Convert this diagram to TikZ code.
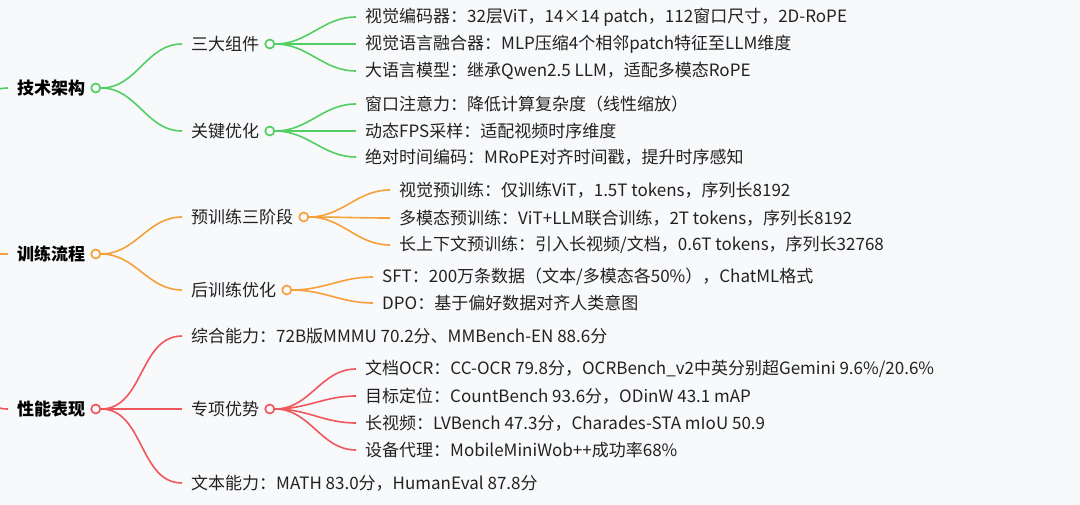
\documentclass[tikz,border=0pt]{standalone}
\usepackage{fontspec}
\setmainfont{Noto Sans CJK SC}
\usepackage{xcolor}
\usepackage{tikz}
\usetikzlibrary{positioning}
\definecolor{bgpage}{HTML}{F8F9FB}
\definecolor{archgreen}{HTML}{52CF63}
\definecolor{trainorange}{HTML}{F5A03A}
\definecolor{perfred}{HTML}{F0575C}
\definecolor{inktext}{HTML}{222222}

\begin{document}
\begin{tikzpicture}[
    x=1pt, y=-1pt,
    every node/.style={font=\fontsize{17}{20}\selectfont, text=inktext},
    topic/.style={anchor=west, inner xsep=9pt, inner ysep=2pt},
    roottopic/.style={topic, font=\fontsize{17}{20}\selectfont\bfseries, text=black},
    knob/.style={circle, draw=#1, fill=bgpage, line width=1.7pt,
                 minimum size=9pt, inner sep=0pt},
    linkline/.style={draw=#1, line width=1.6pt},
]
    \fill[bgpage] (0,0) rectangle (1080,505);
    \useasboundingbox (0,0) rectangle (1080,505);
    \clip (0,0) rectangle (1080,505);
    \coordinate (hub) at (-70,254);

    % Tech architecture
    \node[roottopic] (tech) at (8,88) {技术架构};
    \node[knob=archgreen, right=-4pt of tech] (techk) {};
    \node[topic] (parts) at (182,44) {三大组件};
    \node[knob=archgreen, right=-4pt of parts] (partsk) {};
    \node[topic] (vis) at (356,17) {视觉编码器：32层ViT，14×14 patch，112窗口尺寸，2D-RoPE};
    \node[topic] (fuse) at (356,44) {视觉语言融合器：MLP压缩4个相邻patch特征至LLM维度};
    \node[topic] (llm) at (356,71) {大语言模型：继承Qwen2.5 LLM，适配多模态RoPE};
    \node[topic] (keyopt) at (182,131) {关键优化};
    \node[knob=archgreen, right=-4pt of keyopt] (keyoptk) {};
    \node[topic] (winatt) at (356,104) {窗口注意力：降低计算复杂度（线性缩放）};
    \node[topic] (dynfps) at (356,131) {动态FPS采样：适配视频时序维度};
    \node[topic] (abstime) at (356,157) {绝对时间编码：MRoPE对齐时间戳，提升时序感知};

    % Training pipeline
    \node[roottopic] (train) at (8,254) {训练流程};
    \node[knob=trainorange, right=-4pt of train] (traink) {};
    \node[topic] (pretrain) at (182,217) {预训练三阶段};
    \node[knob=trainorange, right=-4pt of pretrain] (pretraink) {};
    \node[topic] (vispre) at (390,190) {视觉预训练：仅训练ViT，1.5T tokens，序列长8192};
    \node[topic] (mmpre) at (390,218) {多模态预训练：ViT+LLM联合训练，2T tokens，序列长8192};
    \node[topic] (longpre) at (390,245) {长上下文预训练：引入长视频/文档，0.6T tokens，序列长32768};
    \node[topic] (post) at (182,290) {后训练优化};
    \node[knob=trainorange, right=-4pt of post] (postk) {};
    \node[topic] (sft) at (373,277) {SFT：200万条数据（文本/多模态各50\%），ChatML格式};
    \node[topic] (dpo) at (373,303) {DPO：基于偏好数据对齐人类意图};

    % Performance
    \node[roottopic] (perf) at (8,409) {性能表现};
    \node[knob=perfred, right=-4pt of perf] (perfk) {};
    \node[topic] (overall) at (182,336) {综合能力：72B版MMMU 70.2分、MMBench-EN 88.6分};
    \node[topic] (special) at (182,409) {专项优势};
    \node[knob=perfred, right=-4pt of special] (specialk) {};
    \node[topic] (dococr) at (356,369) {文档OCR：CC-OCR 79.8分，OCRBench\_v2中英分别超Gemini 9.6\%/20.6\%};
    \node[topic] (ground) at (356,396) {目标定位：CountBench 93.6分，ODinW 43.1 mAP};
    \node[topic] (longvid) at (356,423) {长视频：LVBench 47.3分，Charades-STA mIoU 50.9};
    \node[topic] (agent) at (356,450) {设备代理：MobileMiniWob++成功率68\%};
    \node[topic] (textcap) at (182,483) {文本能力：MATH 83.0分，HumanEval 87.8分};

    % Links
    \draw[linkline=archgreen] (hub) to[out=0, in=180] (tech.west);
    \draw[linkline=archgreen] (techk.east) to[out=0, in=180] (parts.west);
    \draw[linkline=archgreen] (techk.east) to[out=0, in=180] (keyopt.west);
    \foreach \leaf in {vis, fuse, llm}
        \draw[linkline=archgreen] (partsk.east) to[out=0, in=180] (\leaf.west);
    \foreach \leaf in {winatt, dynfps, abstime}
        \draw[linkline=archgreen] (keyoptk.east) to[out=0, in=180] (\leaf.west);

    \draw[linkline=trainorange] (hub) to[out=0, in=180] (train.west);
    \draw[linkline=trainorange] (traink.east) to[out=0, in=180] (pretrain.west);
    \draw[linkline=trainorange] (traink.east) to[out=0, in=180] (post.west);
    \foreach \leaf in {vispre, mmpre, longpre}
        \draw[linkline=trainorange] (pretraink.east) to[out=0, in=180] (\leaf.west);
    \foreach \leaf in {sft, dpo}
        \draw[linkline=trainorange] (postk.east) to[out=0, in=180] (\leaf.west);

    \draw[linkline=perfred] (hub) to[out=0, in=180] (perf.west);
    \foreach \leaf in {overall, special, textcap}
        \draw[linkline=perfred] (perfk.east) to[out=0, in=180] (\leaf.west);
    \foreach \leaf in {dococr, ground, longvid, agent}
        \draw[linkline=perfred] (specialk.east) to[out=0, in=180] (\leaf.west);
\end{tikzpicture}
\end{document}
